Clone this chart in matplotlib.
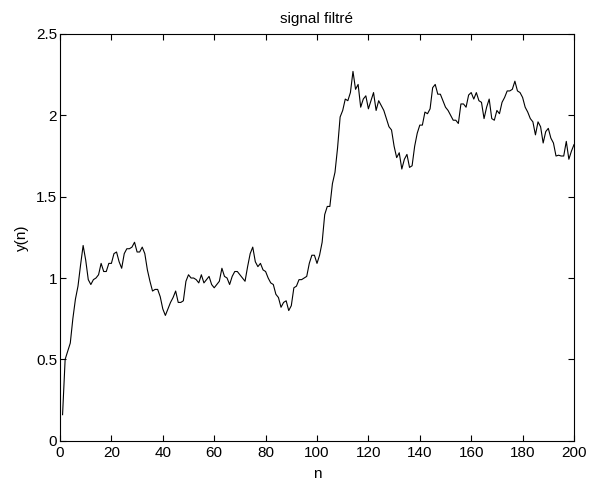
import numpy as np
import matplotlib
matplotlib.use("Agg")
import matplotlib.pyplot as plt

# ============================================================
# Données (signal filtré, n = 1..200)
# ============================================================
n = np.arange(1, 201)
y = [
    0.16, 0.50, 0.55, 0.60, 0.75, 0.87, 0.95, 1.08, 1.20, 1.11,
    0.99, 0.96, 0.99, 1.00, 1.02, 1.09, 1.04, 1.04, 1.09, 1.09,
    1.15, 1.16, 1.10, 1.06, 1.15, 1.18, 1.18, 1.19, 1.22, 1.16,
    1.16, 1.19, 1.15, 1.05, 0.98, 0.92, 0.93, 0.93, 0.885, 0.81,
    0.77, 0.81, 0.85, 0.88, 0.92, 0.85, 0.85, 0.86, 0.98, 1.02,
    1.00, 1.00, 0.99, 0.97, 1.02, 0.97, 0.99, 1.01, 0.96, 0.94,
    0.96, 0.98, 1.06, 1.01, 1.00, 0.96, 1.01, 1.04, 1.04, 1.02,
    1.00, 0.98, 1.07, 1.15, 1.19, 1.10, 1.07, 1.09, 1.05, 1.04,
    1.00, 0.97, 0.96, 0.90, 0.88, 0.82, 0.85, 0.86, 0.80, 0.83,
    0.94, 0.95, 0.99, 0.99, 1.00, 1.01, 1.09, 1.14, 1.14, 1.09,
    1.14, 1.22, 1.39, 1.44, 1.44, 1.58, 1.65, 1.80, 1.99, 2.03,
    2.10, 2.09, 2.14, 2.27, 2.16, 2.19, 2.05, 2.10, 2.12, 2.04,
    2.09, 2.14, 2.03, 2.09, 2.06, 2.03, 1.98, 1.93, 1.91, 1.81,
    1.74, 1.77, 1.67, 1.73, 1.76, 1.68, 1.69, 1.81, 1.89, 1.94,
    1.94, 2.02, 2.01, 2.04, 2.17, 2.19, 2.13, 2.13, 2.09, 2.05,
    2.03, 2.00, 1.97, 1.97, 1.95, 2.07, 2.07, 2.05, 2.125, 2.14,
    2.10, 2.14, 2.09, 2.08, 1.98, 2.05, 2.10, 1.98, 1.97, 2.03,
    2.01, 2.08, 2.11, 2.15, 2.15, 2.16, 2.21, 2.15, 2.14, 2.11,
    2.05, 2.02, 1.98, 1.96, 1.88, 1.96, 1.93, 1.83, 1.90, 1.92,
    1.86, 1.83, 1.75, 1.755, 1.75, 1.75, 1.84, 1.73, 1.78, 1.82,
]
xticks = list(range(0, 201, 20))
yticks = [0, 0.5, 1, 1.5, 2, 2.5]
ytick_labels = ["0", "0.5", "1", "1.5", "2", "2.5"]

# ============================================================
# Figure (style MATLAB)
# ============================================================
plt.rcParams.update({
    "font.family": ["Liberation Sans", "DejaVu Sans"],
    "font.size": 11,
})

fig = plt.figure(figsize=(5.92, 4.92), dpi=100)
ax = fig.add_axes([60 / 592, 1 - 440.7 / 492, 514 / 592, 406.7 / 492])

ax.plot(n, y, color="black", linewidth=0.8)

ax.set_xlim(0, 200)
ax.set_ylim(0, 2.5)
ax.set_xticks(xticks)
ax.set_yticks(yticks)
ax.set_yticklabels(ytick_labels)
ax.tick_params(direction="in", length=4, width=0.8, top=True, right=True)
ax.tick_params(axis="x", pad=4)
ax.tick_params(axis="y", pad=2)
for s in ax.spines.values():
    s.set_linewidth(0.8)

ax.set_title("signal filtré", fontsize=11, pad=8)
ax.set_xlabel("n", labelpad=5)
ax.set_ylabel("y(n)", labelpad=5)

fig.savefig("out.png", dpi=100)
